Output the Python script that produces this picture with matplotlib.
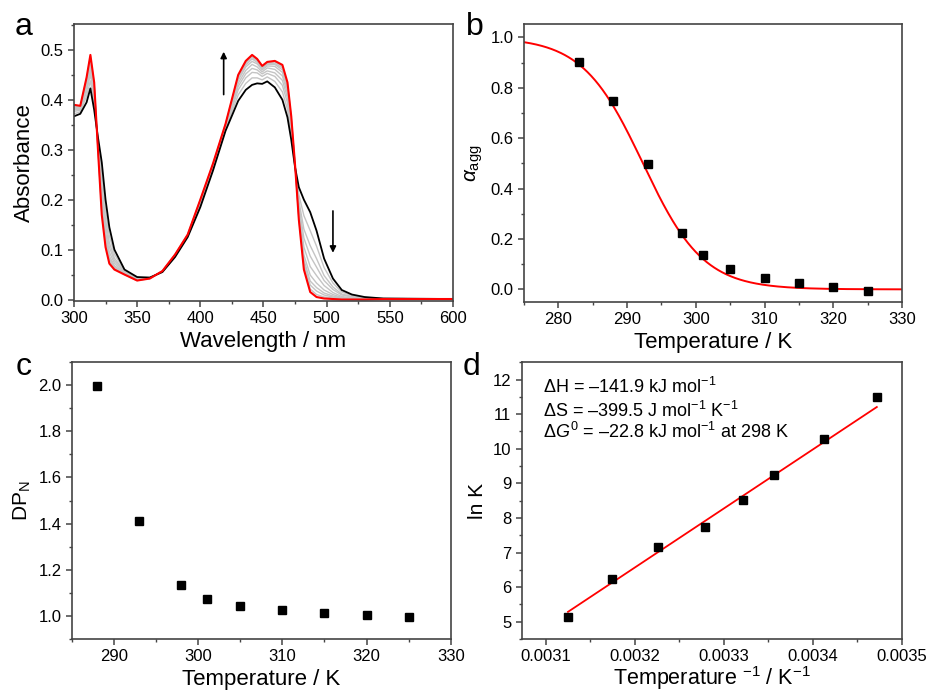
import numpy as np
import matplotlib
matplotlib.use("Agg")
import matplotlib.pyplot as plt
from matplotlib.ticker import MultipleLocator, FormatStrFormatter

plt.rcParams['font.family'] = ['Liberation Sans', 'DejaVu Sans']
plt.rcParams['mathtext.fontset'] = 'custom'
plt.rcParams['mathtext.rm'] = 'Liberation Sans'
plt.rcParams['mathtext.it'] = 'Liberation Sans:italic'
plt.rcParams['mathtext.bf'] = 'Liberation Sans:bold'

# ---- panel a : UV-vis spectra on heating ----
wavelength = [300, 305, 310, 313, 316, 319, 322, 325, 328, 332, 340, 350, 360, 370,
              380, 390, 400, 410, 420, 430, 436, 441, 445, 449, 453, 459, 465, 469,
              472, 475, 478, 482, 487, 492, 498, 505, 512, 520, 530, 545, 600]

# first spectrum (black, low T)
abs_first = [0.367, 0.372, 0.395, 0.423, 0.380, 0.325, 0.275, 0.200, 0.145, 0.100, 0.060,
             0.045, 0.044, 0.055, 0.085, 0.125, 0.185, 0.258, 0.338, 0.398, 0.420, 0.430,
             0.433, 0.432, 0.437, 0.425, 0.400, 0.365, 0.320, 0.265, 0.225, 0.200, 0.175,
             0.138, 0.082, 0.042, 0.019, 0.010, 0.005, 0.002, 0.001]

# last spectrum (red, high T)
abs_last = [0.390, 0.388, 0.445, 0.490, 0.435, 0.300, 0.170, 0.105, 0.072, 0.060, 0.050,
            0.038, 0.042, 0.057, 0.090, 0.130, 0.200, 0.272, 0.352, 0.450, 0.478, 0.490,
            0.482, 0.468, 0.476, 0.478, 0.470, 0.435, 0.367, 0.270, 0.160, 0.060, 0.015,
            0.005, 0.002, 0.001, 0.000, 0.000, 0.000, 0.001, 0.001]

# intermediate spectra (grey)
abs_grey = [
    [0.372, 0.376, 0.407, 0.438, 0.393, 0.319, 0.251, 0.178, 0.128, 0.091, 0.058,
     0.043, 0.044, 0.055, 0.086, 0.126, 0.188, 0.261, 0.341, 0.410, 0.433, 0.444,
     0.444, 0.440, 0.446, 0.437, 0.416, 0.381, 0.331, 0.266, 0.210, 0.168, 0.138,
     0.107, 0.064, 0.033, 0.015, 0.008, 0.004, 0.002, 0.001],
    [0.377, 0.379, 0.416, 0.451, 0.403, 0.315, 0.231, 0.160, 0.114, 0.083, 0.056,
     0.042, 0.043, 0.056, 0.087, 0.127, 0.191, 0.264, 0.344, 0.420, 0.444, 0.455,
     0.454, 0.447, 0.453, 0.447, 0.429, 0.394, 0.340, 0.267, 0.198, 0.141, 0.108,
     0.082, 0.048, 0.025, 0.011, 0.006, 0.003, 0.002, 0.001],
    [0.380, 0.381, 0.423, 0.460, 0.410, 0.311, 0.217, 0.148, 0.105, 0.078, 0.055,
     0.041, 0.043, 0.056, 0.088, 0.128, 0.193, 0.266, 0.346, 0.427, 0.452, 0.463,
     0.460, 0.452, 0.458, 0.454, 0.439, 0.404, 0.346, 0.268, 0.189, 0.123, 0.087,
     0.065, 0.038, 0.020, 0.009, 0.005, 0.002, 0.001, 0.001],
    [0.383, 0.383, 0.429, 0.469, 0.417, 0.308, 0.204, 0.135, 0.095, 0.073, 0.053,
     0.040, 0.043, 0.056, 0.088, 0.128, 0.195, 0.268, 0.348, 0.433, 0.459, 0.471,
     0.466, 0.456, 0.464, 0.461, 0.448, 0.413, 0.352, 0.268, 0.181, 0.105, 0.066,
     0.048, 0.028, 0.014, 0.006, 0.003, 0.002, 0.001, 0.001],
    [0.385, 0.385, 0.435, 0.476, 0.423, 0.305, 0.192, 0.125, 0.087, 0.068, 0.052,
     0.040, 0.042, 0.057, 0.089, 0.129, 0.197, 0.269, 0.349, 0.439, 0.466, 0.477,
     0.472, 0.460, 0.468, 0.467, 0.455, 0.420, 0.357, 0.269, 0.174, 0.089, 0.049,
     0.033, 0.019, 0.010, 0.004, 0.002, 0.001, 0.001, 0.001],
    [0.387, 0.386, 0.438, 0.481, 0.427, 0.304, 0.185, 0.118, 0.082, 0.066, 0.051,
     0.039, 0.042, 0.057, 0.089, 0.129, 0.198, 0.270, 0.350, 0.443, 0.470, 0.482,
     0.475, 0.463, 0.471, 0.471, 0.460, 0.425, 0.360, 0.269, 0.169, 0.080, 0.037,
     0.024, 0.013, 0.007, 0.003, 0.001, 0.001, 0.001, 0.001],
    [0.388, 0.387, 0.441, 0.484, 0.430, 0.302, 0.180, 0.114, 0.079, 0.064, 0.051,
     0.039, 0.042, 0.057, 0.090, 0.130, 0.199, 0.271, 0.351, 0.445, 0.473, 0.485,
     0.478, 0.465, 0.473, 0.473, 0.464, 0.429, 0.363, 0.270, 0.166, 0.073, 0.029,
     0.017, 0.009, 0.005, 0.002, 0.001, 0.000, 0.001, 0.001],
    [0.389, 0.387, 0.443, 0.487, 0.433, 0.301, 0.174, 0.109, 0.075, 0.062, 0.050,
     0.038, 0.042, 0.057, 0.090, 0.130, 0.199, 0.271, 0.351, 0.448, 0.476, 0.488,
     0.480, 0.467, 0.474, 0.476, 0.467, 0.432, 0.365, 0.270, 0.163, 0.066, 0.021,
     0.010, 0.005, 0.003, 0.001, 0.000, 0.000, 0.001, 0.001],
]

# ---- panel b : degree of aggregation ----
temp_b = [283, 288, 293, 298, 301, 305, 310, 315, 320, 325]
alpha_agg = [0.901, 0.749, 0.496, 0.224, 0.135, 0.081, 0.046, 0.026, 0.008, -0.008]
# sigmoid fit parameters
T_m = 292.3
T_width = 4.4

# ---- panel c : number-averaged degree of polymerisation ----
temp_c = [288, 293, 298, 301, 305, 310, 315, 320, 325]
dp_n = [1.995, 1.41, 1.135, 1.075, 1.043, 1.025, 1.014, 1.003, 0.997]

# ---- panel d : van 't Hoff plot ----
inv_temp = [0.003125, 0.003175, 0.003226, 0.003279, 0.003322, 0.003356, 0.003413, 0.003472]
ln_k = [5.14, 6.24, 7.15, 7.73, 8.51, 9.25, 10.27, 11.50]
dH = -141.9   # kJ/mol
dS = -399.5   # J/mol/K
R = 8.314

SPINE = '#444444'


def style(ax, xmaj, xmin, ymaj, ymin, xfmt, yfmt):
    for s in ax.spines.values():
        s.set_color(SPINE)
        s.set_linewidth(1.2)
    ax.xaxis.set_major_locator(MultipleLocator(xmaj))
    ax.xaxis.set_minor_locator(MultipleLocator(xmin))
    ax.yaxis.set_major_locator(MultipleLocator(ymaj))
    ax.yaxis.set_minor_locator(MultipleLocator(ymin))
    ax.xaxis.set_major_formatter(FormatStrFormatter(xfmt))
    ax.yaxis.set_major_formatter(FormatStrFormatter(yfmt))
    ax.tick_params(which='both', direction='out', top=False, right=False,
                   color=SPINE, labelcolor='black', labelsize=12)
    ax.tick_params(which='major', length=4.5, width=1.1, pad=3)
    ax.tick_params(which='minor', length=2.5, width=1.0)


fig = plt.figure(figsize=(9.28, 6.95), dpi=100)

# panel a
ax_a = fig.add_axes([0.0797, 0.5669, 0.4084, 0.3986])
for g in abs_grey:
    ax_a.plot(wavelength, g, color='#c4c4c4', lw=1.0)
ax_a.plot(wavelength, abs_first, color='black', lw=1.3)
ax_a.plot(wavelength, abs_last, color='#ff0000', lw=1.5)
ax_a.annotate('', xy=(418.5, 0.502), xytext=(418.5, 0.405),
              arrowprops=dict(arrowstyle='-|>', color='black', lw=1.2, mutation_scale=9))
ax_a.annotate('', xy=(505, 0.088), xytext=(505, 0.183),
              arrowprops=dict(arrowstyle='-|>', color='black', lw=1.2, mutation_scale=9))
ax_a.set_xlim(300, 600)
ax_a.set_ylim(-0.003, 0.552)
style(ax_a, 50, 25, 0.1, 0.05, '%d', '%.1f')
ax_a.set_xlabel('Wavelength / nm', fontsize=16, labelpad=3)
ax_a.set_ylabel('Absorbance', fontsize=16, labelpad=4)

# panel b
ax_b = fig.add_axes([0.5647, 0.5655, 0.4073, 0.4])
t_fit = np.linspace(275, 330, 400)
ax_b.plot(t_fit, 1.0 / (1.0 + np.exp((t_fit - T_m) / T_width)), color='#ff0000', lw=1.4)
ax_b.plot(temp_b, alpha_agg, 's', color='black', ms=5.6)
ax_b.set_xlim(275, 330)
ax_b.set_ylim(-0.05, 1.053)
style(ax_b, 10, 5, 0.2, 0.1, '%d', '%.1f')
ax_b.set_xlabel('Temperature / K', fontsize=16, labelpad=3)
ax_b.set_ylabel(r'$\mathit{\alpha}_{\mathrm{agg}}$', fontsize=15, labelpad=4)

# panel c
ax_c = fig.add_axes([0.0776, 0.0806, 0.4081, 0.3985])
ax_c.plot(temp_c, dp_n, 's', color='black', ms=5.6)
ax_c.set_xlim(285, 330)
ax_c.set_ylim(0.9, 2.1)
style(ax_c, 10, 5, 0.2, 0.1, '%d', '%.1f')
ax_c.set_xlabel('Temperature / K', fontsize=16, labelpad=3)
ax_c.set_ylabel(r'DP$_{\mathrm{N}}$', fontsize=15, labelpad=4)

# panel d
ax_d = fig.add_axes([0.5622, 0.0806, 0.4095, 0.3981])
x_line = np.array([min(inv_temp), max(inv_temp)])
ax_d.plot(x_line, -dH * 1000 / R * x_line + dS / R, color='#ff0000', lw=1.3)
ax_d.plot(inv_temp, ln_k, 's', color='black', ms=5.6)
ax_d.set_xlim(0.003073, 0.0035)
ax_d.set_ylim(4.5, 12.5)
style(ax_d, 0.0001, 0.00005, 1, 0.5, '%.4f', '%d')
ax_d.set_xlabel(r'Temperature $^{-1}$ / K$^{-1}$', fontsize=15.5, labelpad=0)
ax_d.set_ylabel('ln K', fontsize=15, labelpad=4)
ax_d.text(0.055, 0.889, '\u0394H = \u2013141.9 kJ mol$^{-1}$', transform=ax_d.transAxes,
          fontsize=13, va='baseline')
ax_d.text(0.055, 0.803, '\u0394S = \u2013399.5 J mol$^{-1}$ K$^{-1}$', transform=ax_d.transAxes,
          fontsize=13, va='baseline')
ax_d.text(0.055, 0.726, '\u0394$\\mathit{G}^{0}$ = \u201322.8 kJ mol$^{-1}$ at 298 K',
          transform=ax_d.transAxes, fontsize=13, va='baseline')

# panel letters
for lab, x, y in [('a', 0.016, 0.9496), ('b', 0.502, 0.9496),
                  ('c', 0.017, 0.4604), ('d', 0.499, 0.4604)]:
    fig.text(x, y, lab, fontsize=23, va='baseline')

fig.savefig('out.png', dpi=100)
